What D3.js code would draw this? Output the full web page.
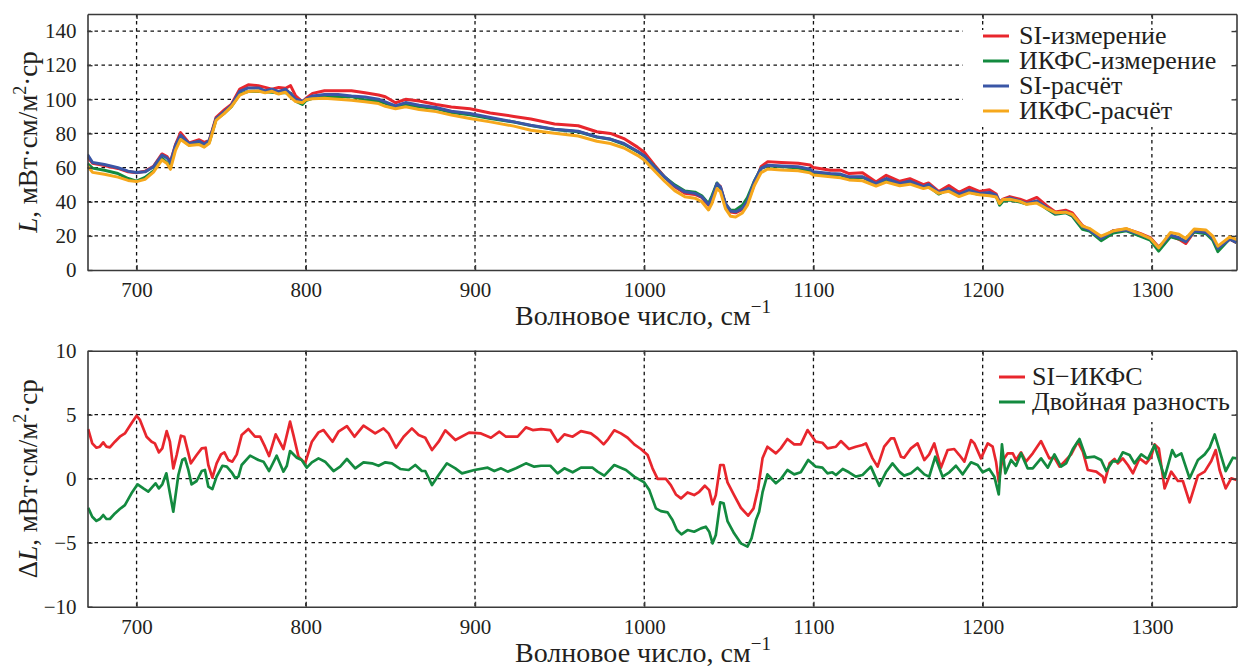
<!DOCTYPE html>
<html>
<head>
<meta charset="utf-8">
<script src="https://cdn.jsdelivr.net/npm/d3@7"></script>
</head>
<body style="margin:0; background:#fff;">
<svg id="chart" width="1241" height="669"></svg>
<script>
// ---- data ----
const xTicks = [700, 800, 900, 1000, 1100, 1200, 1300];
const topTicks = [0, 20, 40, 60, 80, 100, 120, 140];
const diffTicks = [-10, -5, 0, 5, 10];

// upper panel: wavenumber grid and the four spectra
const waveTop = [
  671, 674, 681, 689, 695, 700, 705, 710, 715, 718,
  720, 723, 726, 731, 737, 740, 743, 747, 752, 756,
  761, 766, 772, 776, 780, 784, 788, 791, 794, 798,
  800, 804, 811, 819, 827, 835, 843, 847, 853, 859,
  867, 877, 886, 897, 909, 923, 933, 947, 961, 972,
  980, 988, 996, 1000, 1006, 1012, 1018, 1024, 1030, 1034,
  1038, 1040, 1043, 1045, 1048, 1051, 1054, 1058, 1061, 1065,
  1069, 1073, 1081, 1091, 1098, 1100, 1110, 1116, 1121, 1129,
  1137, 1143, 1151, 1157, 1165, 1168, 1174, 1180, 1186, 1192,
  1198, 1204, 1208, 1210, 1212, 1216, 1222, 1226, 1232, 1238,
  1243, 1249, 1253, 1259, 1263, 1270, 1277, 1285, 1293, 1299,
  1304, 1311, 1316, 1320, 1325, 1332, 1336, 1339, 1346, 1350
];
const siMeas = [
  66.3, 62.5, 61.2, 59.5, 57.5, 57.0, 57.8, 60.8, 68.0, 66.5,
  63.5, 73.5, 80.5, 74.5, 76.3, 74.8, 76.0, 89.5, 94.0, 97.0,
  106.0, 108.5, 108.0, 107.0, 106.0, 107.0, 106.5, 108.0, 102.0, 98.5,
  100.5, 103.5, 105.0, 105.0, 105.0, 103.8, 102.5, 101.5, 98.0, 100.0,
  99.0, 97.0, 95.5, 94.5, 92.0, 90.0, 88.5, 85.5, 84.5, 81.0,
  80.0, 77.0, 72.0, 69.0, 61.5, 54.5, 48.8, 45.0, 44.3, 42.5,
  38.0, 41.5, 50.5, 49.0, 38.5, 34.0, 33.5, 35.5, 39.5, 50.0,
  60.5, 63.5, 63.0, 62.5, 61.5, 60.0, 58.5, 58.5, 56.5, 57.0,
  51.5, 55.5, 52.0, 53.5, 50.0, 51.0, 46.0, 49.5, 45.5, 48.5,
  46.0, 47.0, 44.5, 39.5, 41.5, 43.0, 41.5, 40.0, 42.5, 37.5,
  34.0, 35.0, 33.5, 26.0, 23.5, 18.5, 23.0, 24.0, 21.5, 19.0,
  13.5, 20.0, 18.0, 15.5, 22.5, 22.0, 19.0, 13.0, 18.0, 16.0
];
const ikfsMeas = [
  62.3, 59.7, 58.4, 56.5, 53.6, 52.1, 54.3, 58.0, 65.6, 62.8,
  60.6, 72.0, 77.2, 73.2, 74.4, 72.4, 75.0, 88.3, 92.0, 95.7,
  103.2, 104.6, 104.7, 104.5, 104.2, 103.7, 104.0, 103.6, 99.0, 97.0,
  99.2, 100.6, 101.4, 101.4, 101.6, 99.7, 98.9, 97.6, 95.4, 96.8,
  95.6, 94.6, 92.3, 91.0, 88.8, 86.7, 84.6, 82.3, 81.0, 77.9,
  76.6, 73.7, 69.4, 66.8, 60.6, 54.5, 49.9, 46.3, 45.6, 43.5,
  38.9, 43.5, 51.0, 48.0, 38.5, 35.0, 35.1, 37.9, 42.4, 52.0,
  59.5, 61.0, 60.6, 59.8, 57.9, 57.0, 56.0, 55.6, 54.2, 54.4,
  50.3, 52.9, 50.2, 51.3, 48.4, 49.1, 44.5, 47.3, 43.6, 45.7,
  44.2, 44.3, 43.2, 38.0, 40.3, 41.0, 39.8, 38.6, 40.1, 35.7,
  32.6, 33.6, 31.5, 23.8, 22.9, 17.2, 21.6, 23.0, 19.9, 17.5,
  11.1, 19.5, 18.2, 17.0, 22.3, 21.3, 17.4, 10.8, 18.3, 16.1
];
const siCalc = [
  67.7, 63.0, 61.8, 59.9, 57.9, 57.1, 57.5, 60.5, 67.3, 65.7,
  63.0, 73.1, 79.0, 74.1, 75.5, 73.7, 76.0, 88.7, 93.0, 96.5,
  104.7, 106.7, 106.7, 105.0, 105.9, 104.7, 105.9, 103.4, 100.1, 98.9,
  100.1, 102.0, 102.8, 102.8, 102.0, 101.4, 100.1, 98.5, 96.2, 98.1,
  96.5, 95.2, 93.0, 91.7, 89.3, 86.8, 84.8, 82.5, 81.3, 78.0,
  76.7, 74.1, 69.6, 66.9, 60.5, 54.6, 49.2, 45.8, 44.9, 42.9,
  38.4, 41.9, 50.7, 48.8, 39.0, 34.5, 34.1, 36.1, 40.4, 51.7,
  59.5, 61.4, 61.0, 60.5, 59.1, 57.5, 56.6, 56.2, 54.6, 54.6,
  50.7, 53.6, 50.7, 52.1, 48.8, 50.1, 45.4, 47.8, 44.3, 46.8,
  44.9, 45.4, 43.9, 40.0, 41.0, 42.3, 40.4, 39.0, 40.4, 36.5,
  33.2, 34.1, 32.2, 25.4, 23.4, 18.5, 22.8, 23.4, 20.9, 18.5,
  13.1, 20.5, 18.9, 16.6, 22.8, 22.0, 18.5, 12.7, 18.1, 16.2
];
const ikfsCalc = [
  61.0, 57.2, 56.1, 54.4, 52.5, 51.8, 53.1, 57.3, 64.5, 62.4,
  59.0, 70.1, 76.5, 73.0, 73.5, 72.0, 74.3, 87.7, 91.9, 95.7,
  102.5, 104.6, 104.9, 103.8, 104.7, 103.1, 104.2, 101.1, 98.7, 98.0,
  99.7, 100.4, 100.6, 100.1, 99.5, 98.6, 97.5, 95.9, 94.5, 95.6,
  94.0, 92.8, 90.8, 88.8, 86.8, 84.3, 81.9, 80.1, 78.5, 75.4,
  74.1, 71.5, 67.2, 64.4, 58.1, 52.0, 46.5, 42.9, 42.1, 40.0,
  35.2, 38.9, 47.7, 45.9, 36.0, 31.5, 31.1, 33.4, 38.0, 49.4,
  57.0, 59.2, 58.6, 58.2, 56.9, 55.6, 54.6, 54.0, 52.8, 52.3,
  49.2, 51.5, 49.4, 50.3, 47.7, 48.4, 44.9, 46.1, 43.0, 45.2,
  44.1, 43.5, 42.8, 39.0, 41.3, 41.5, 40.2, 38.5, 39.2, 35.9,
  33.6, 33.9, 32.5, 25.7, 24.4, 19.8, 22.8, 24.3, 21.2, 18.6,
  13.0, 22.0, 21.0, 18.4, 24.0, 23.4, 19.8, 14.0, 19.4, 17.9
];

// lower panel: SI minus IKFS
const waveDiff = [
  671.4, 673.8, 676.3, 678.3, 680.3, 682.2, 684.2, 687.2, 690.1, 693.1,
  697, 700, 702, 705.9, 708.9, 710.8, 713.2, 715.2, 717.8, 719.7,
  721.7, 723.7, 726.2, 728.2, 732.1, 735.5, 738.5, 740.8, 742.4, 744.8,
  747.3, 749.9, 751.9, 754.2, 756.6, 759.2, 762.1, 766.1, 770, 773,
  775.9, 778.3, 782.2, 786.8, 790.7, 792.7, 795.7, 799.6, 803.6, 807.5,
  810.5, 815.8, 819.3, 824.3, 828.8, 834.1, 841, 845.9, 848.9, 853.3,
  857.8, 862.7, 866.7, 870.6, 874.6, 878.5, 882.4, 888.4, 896.5, 903.5,
  909.4, 914.4, 918.3, 925.2, 930.1, 934.1, 939, 944.5, 948.8, 952.8,
  957.7, 962.6, 968.5, 972.4, 976, 978.7, 982.3, 986.2, 990.2, 994.1,
  998, 1002, 1004.9, 1007.9, 1012.8, 1015.7, 1018.7, 1021.7, 1025.6, 1029.5,
  1032.5, 1035.8, 1038.4, 1040.4, 1042.3, 1044.9, 1046.9, 1049.2, 1053.1, 1057.1,
  1061.4, 1064.6, 1067.3, 1069.9, 1072.8, 1077.8, 1080.7, 1084.6, 1088.6, 1092.5,
  1096.5, 1101.4, 1105.3, 1108.3, 1113.3, 1116.2, 1121, 1125, 1129, 1131,
  1134.9, 1137.9, 1141.8, 1145.8, 1147.7, 1151.7, 1153.6, 1157.6, 1161.5, 1165.5,
  1168.4, 1171.4, 1175.3, 1179.3, 1183.2, 1186.2, 1189.2, 1193.1, 1195.1, 1199,
  1203, 1205.9, 1207.9, 1209.5, 1211.4, 1214.8, 1217.8, 1219.7, 1222.7, 1225.6,
  1229.6, 1234.5, 1239.4, 1242.4, 1245.4, 1248.3, 1252.3, 1256.2, 1259.2, 1262.1,
  1267.1, 1271, 1272, 1275, 1277.9, 1279.9, 1282.8, 1285.8, 1288.8, 1292.7,
  1296.6, 1299.6, 1301.6, 1304.1, 1307.5, 1311.4, 1315.4, 1318.3, 1322.3, 1327.2,
  1331.2, 1335.1, 1337.7, 1340, 1343.6, 1346.9, 1350
];
const diffSI = [
  3.88, 2.76, 2.42, 2.5, 2.84, 2.5, 2.45, 2.89, 3.28, 3.54,
  4.33, 4.92, 4.59, 3.28, 2.89, 2.76, 2.06, 2.37, 3.72, 2.89,
  0.81, 1.85, 3.36, 3.28, 1.2, 1.85, 2.37, 2.42, 1.07, 0.08,
  1.2, 1.9, 2.06, 1.46, 1.33, 1.9, 3.41, 3.88, 3.28, 3.28,
  2.5, 1.77, 3.46, 2.32, 4.46, 3.41, 1.72, 1.2, 2.89, 3.62,
  3.8, 2.89, 3.67, 4.11, 3.28, 4.14, 3.54, 3.93, 3.54, 2.42,
  3.28, 3.93, 3.41, 3.2, 2.24, 2.89, 3.78, 3.02, 3.6, 3.54,
  3.2, 3.67, 3.28, 3.28, 4.01, 3.8, 3.88, 3.8, 2.89, 3.46,
  3.28, 3.72, 3.54, 3.15, 2.68, 3.1, 3.78, 3.54, 3.2, 2.68,
  2.32, 1.85, 0.81, -0.02, -0.02, -0.5, -1.23, -1.54, -1.07, -1.28,
  -1.02, -0.55, -0.89, -2.0, -1.28, 1.07, 1.07, -0.29, -1.28, -2.27,
  -2.89, -2.32, -0.76, 1.59, 2.5, 1.98, 2.37, 3.1, 2.68, 2.68,
  3.8, 2.89, 2.81, 2.37, 2.5, 2.94, 2.32, 2.5, 2.63, 2.76,
  1.59, 0.94, 2.5, 3.15, 3.15, 1.72, 1.64, 2.37, 2.76, 1.46,
  1.9, 2.76, 0.86, 2.24, 2.32, 1.85, 1.33, 3.02, 2.76, 1.59,
  2.76, 2.5, 1.33, -0.23, 1.33, 1.98, 1.98, 1.46, 2.06, 1.33,
  1.98, 2.94, 1.59, 1.64, 0.94, 1.33, 1.9, 2.89, 2.11, 0.68,
  0.55, 0.16, -0.29, 1.2, 1.54, 1.2, 1.59, 1.07, 0.42, 1.59,
  1.2, 1.72, 2.68, 2.37, -0.76, 0.55, -0.18, -0.18, -1.85, 0.24,
  0.55, 1.38, 2.24, 0.68, -0.76, 0.03, -0.1
];

// lower panel: double difference
const waveDouble = [
  671.4, 673.8, 676.3, 678.3, 680.3, 682.2, 684.2, 687.2, 690.1, 693.1,
  697, 700.6, 704, 706.9, 711.2, 713.2, 715.2, 717.6, 719.7, 721.7,
  724.7, 727, 728.6, 730.6, 732.5, 735.5, 738.5, 740.4, 742.4, 744.8,
  747.3, 750.7, 753.3, 756.2, 758.2, 760.2, 762.1, 767.1, 772, 775,
  778.3, 782.8, 786.8, 788.8, 790.7, 794.7, 797.6, 800.6, 803.6, 807.5,
  811.4, 816.4, 820.3, 824.3, 829.2, 834.1, 839.1, 843, 847, 850.9,
  855.8, 860.8, 864.7, 868.6, 870.6, 874.6, 878.5, 883.4, 888.4, 892.3,
  899.6, 907.5, 911.4, 915.4, 919.3, 924.2, 930.1, 935, 939, 944.5,
  948.8, 952.8, 957.7, 962.6, 969.5, 972.4, 976.4, 982.3, 989.2, 994.1,
  1000, 1003, 1006.9, 1009.8, 1013.8, 1016.7, 1019.3, 1022, 1025.6, 1029.5,
  1033.5, 1036.4, 1038.4, 1040.4, 1042.3, 1044.9, 1046.9, 1049.2, 1053.1, 1057.1,
  1061, 1063.4, 1066, 1067.9, 1069.9, 1072.8, 1077.8, 1080.7, 1084.6, 1088.6,
  1092.5, 1096.9, 1101.4, 1105.3, 1108.3, 1111.2, 1113.3, 1117.3, 1121, 1125,
  1129, 1133.9, 1138.9, 1142.8, 1146.7, 1150.7, 1153.6, 1157.6, 1161.5, 1165.5,
  1168.4, 1172, 1176.3, 1180.3, 1184.2, 1188.2, 1193.1, 1197, 1200, 1203.9,
  1206.9, 1209.5, 1211.4, 1213.4, 1216.8, 1219.7, 1222.7, 1226.6, 1229.6, 1234.5,
  1238.5, 1242.4, 1246.3, 1249.3, 1253.3, 1257.2, 1261.1, 1266.1, 1270, 1273,
  1276.9, 1279.9, 1282.8, 1286.8, 1289.7, 1293.7, 1297.6, 1301.6, 1305.5, 1307.5,
  1312, 1314, 1317.4, 1322.3, 1327.2, 1331.2, 1334.1, 1337.1, 1339.6, 1343.6,
  1347.9, 1350
];
const diffDouble = [
  -2.27, -2.97, -3.3, -3.15, -2.84, -3.15, -3.15, -2.71, -2.37, -2.06,
  -1.14, -0.44, -0.76, -1.01, -0.36, -0.76, -0.44, 0.42, -1.14, -2.58,
  0.29, 1.46, 1.59, 0.68, -0.44, -0.18, 0.6, 0.68, -0.62, -0.81,
  0.16, 1.01, 0.94, 0.5, 0.08, 0.16, 1.07, 1.8, 1.46, 1.33,
  0.6, 1.8, 0.55, 1.01, 2.16, 1.64, 1.46, 0.86, 1.28, 1.59,
  1.33, 0.6, 0.94, 1.54, 0.81, 1.28, 1.2, 1.01, 1.28, 1.2,
  0.76, 0.68, 1.07, 0.6, 0.6, -0.5, 0.29, 1.2, 0.81, 0.42,
  0.68, 0.86, 0.6, 0.81, 0.55, 0.81, 1.2, 0.94, 1.01, 1.01,
  0.42, 0.81, 0.5, 0.86, 0.86, 0.55, 0.24, 1.07, 0.68, 0.16,
  -0.29, -0.89, -2.32, -2.53, -2.63, -3.23, -4.01, -4.35, -4.01, -4.14,
  -3.88, -3.75, -4.14, -5.05, -4.4, -1.85, -1.93, -3.31, -4.27, -5.05,
  -5.31, -4.66, -3.23, -2.58, -1.07, 0.34, -0.36, -0.03, 0.68, 0.34,
  0.5, 1.46, 0.94, 0.86, 0.42, 0.5, 0.29, 0.76, 0.5, 0.16,
  0.29, 0.94, -0.55, 0.5, 1.2, 0.55, 0.24, 0.42, 0.86, 0.34,
  0.16, 1.72, 0.16, 0.5, 1.01, 0.34, 1.28, 1.07, 0.5, 0.76,
  0.16, -1.23, 2.68, 0.42, 1.46, 1.01, 1.98, 0.81, 0.81, 1.59,
  0.86, 1.9, 0.94, 1.2, 2.32, 3.1, 1.64, 1.72, 1.46, 0.6,
  1.38, 1.33, 2.06, 1.85, 1.2, 1.9, 1.54, 2.63, 0.94, 0.08,
  2.24, 1.72, 1.98, 0.03, 1.46, 1.9, 2.42, 3.46, 2.37, 0.6,
  1.64, 1.59
];

(function() {

  const FONT = "'Liberation Serif', 'Times New Roman', serif";
  const INK = "#231f20";
  const svg = d3.select("#chart");
  const plotLeft = 87.5, plotRight = 1236.5;

  // shared wavenumber scale
  const x = d3.scaleLinear()
      .domain([671, 1350])
      .range([plotLeft, plotRight]);

  const line = (y) => d3.line()
      .x(d => x(d[0]))
      .y(d => y(d[1]));

  function drawPanel(cfg) {
    let y = d3.scaleLinear()
        .domain(cfg.yDomain)
        .range([cfg.bottom, cfg.top]);

    let g = svg.append("g");

    svg.append("clipPath").attr("id", cfg.id)
      .append("rect")
        .attr("x", plotLeft).attr("y", cfg.top)
        .attr("width", plotRight - plotLeft)
        .attr("height", cfg.bottom - cfg.top);

    // dashed grid
    let grid = g.append("g")
        .attr("stroke", "#111")
        .attr("stroke-width", 1.3)
        .attr("stroke-dasharray", "3.5,3.5");
    grid.selectAll("line.gx")
      .data(xTicks)
      .enter().append("line")
        .attr("x1", d => x(d)).attr("x2", d => x(d))
        .attr("y1", cfg.top).attr("y2", cfg.bottom);
    grid.selectAll("line.gy")
      .data(cfg.yTicks.filter(d => d > cfg.yDomain[0] && d < cfg.yDomain[1]))
      .enter().append("line")
        .attr("x1", plotLeft).attr("x2", plotRight)
        .attr("y1", d => y(d)).attr("y2", d => y(d));

    // curves
    let curves = g.append("g").attr("clip-path", "url(#" + cfg.id + ")");
    cfg.series.forEach(s => {
      curves.append("path")
        .datum(d3.zip(s.x, s.y))
        .attr("fill", "none")
        .attr("stroke", s.color)
        .attr("stroke-width", cfg.lineWidth)
        .attr("stroke-linejoin", "round")
        .attr("d", line(y));
    });

    // legend with white background
    let lg = g.append("g");
    lg.append("rect")
        .attr("x", cfg.legend.box[0]).attr("y", cfg.legend.box[1])
        .attr("width", cfg.legend.box[2]).attr("height", cfg.legend.box[3])
        .attr("fill", "#fff");
    cfg.series.forEach((s, i) => {
      let yy = cfg.legend.y0 + i * cfg.legend.step;
      lg.append("line")
          .attr("x1", cfg.legend.x0).attr("x2", cfg.legend.x0 + 26)
          .attr("y1", yy).attr("y2", yy)
          .attr("stroke", s.color).attr("stroke-width", 3);
      lg.append("text")
          .attr("x", cfg.legend.x0 + cfg.legend.gap).attr("y", yy + 8)
          .style("font-family", FONT)
          .style("font-size", "26px")
          .style("fill", INK)
          .text(s.name);
    });

    // axes: inward ticks on all sides, labels bottom and left
    let fmt = d3.format("d");
    let axes = [
      { ax: d3.axisBottom(x).tickValues(xTicks).tickFormat(fmt).tickPadding(12), t: "translate(0," + cfg.bottom + ")" },
      { ax: d3.axisTop(x).tickValues(xTicks).tickFormat(""), t: "translate(0," + cfg.top + ")" },
      { ax: d3.axisLeft(y).tickValues(cfg.yTicks).tickFormat(fmt).tickPadding(11), t: "translate(" + plotLeft + ",0)" },
      { ax: d3.axisRight(y).tickValues(cfg.yTicks).tickFormat(""), t: "translate(" + plotRight + ",0)" }
    ];
    axes.forEach(a => {
      let ag = g.append("g")
          .attr("transform", a.t)
          .call(a.ax.tickSizeInner(-5).tickSizeOuter(0));
      ag.select(".domain").attr("stroke", "#3a3a3a").attr("stroke-width", 1.6);
      ag.selectAll(".tick line").attr("stroke", "#3a3a3a").attr("stroke-width", 1.4);
      ag.selectAll(".tick text")
          .style("font-family", FONT)
          .style("font-size", "21px")
          .style("fill", INK);
    });

    // x label
    let xl = g.append("text")
        .attr("x", 643).attr("y", cfg.bottom + 55)
        .attr("text-anchor", "middle")
        .style("font-family", FONT)
        .style("font-size", "28px")
        .style("fill", INK);
    xl.append("tspan").text("Волновое число, см");
    xl.append("tspan").attr("dy", -12).style("font-size", "19px").text("−1");

    // y label
    let yl = g.append("text")
        .attr("transform", "translate(37," + ((cfg.top + cfg.bottom) / 2) + ") rotate(-90)")
        .attr("text-anchor", "middle")
        .style("font-family", FONT)
        .style("font-size", "27px")
        .style("fill", INK);
    if (cfg.delta) yl.append("tspan").text("Δ");
    yl.append("tspan").style("font-style", "italic").text("L");
    yl.append("tspan").text(", мВт·см/м");
    yl.append("tspan").attr("dy", -11).style("font-size", "18px").text("2");
    yl.append("tspan").attr("dy", 11).text("·ср");
  }

  drawPanel({
    id: "clipTop",
    top: 14, bottom: 270,
    yDomain: [0, 150],
    yTicks: topTicks,
    lineWidth: 3,
    series: [
      { name: "SI-измерение", color: "#e8262d", x: waveTop, y: siMeas },
      { name: "ИКФС-измерение", color: "#138a3f", x: waveTop, y: ikfsMeas },
      { name: "SI-расчёт", color: "#3a56a6", x: waveTop, y: siCalc },
      { name: "ИКФС-расчёт", color: "#f6a81c", x: waveTop, y: ikfsCalc }
    ],
    legend: { box: [963, 30, 272, 97], x0: 983, gap: 36, y0: 36, step: 25 }
  });

  drawPanel({
    id: "clipBottom",
    top: 350.7, bottom: 606.7,
    yDomain: [-10, 10],
    yTicks: diffTicks,
    lineWidth: 2.7,
    delta: true,
    series: [
      { name: "SI−ИКФС", color: "#e8262d", x: waveDiff, y: diffSI },
      { name: "Двойная разность", color: "#138a3f", x: waveDouble, y: diffDouble }
    ],
    legend: { box: [986, 360, 249, 62], x0: 999, gap: 33, y0: 377, step: 25 }
  });

})();
</script>
</body>
</html>
